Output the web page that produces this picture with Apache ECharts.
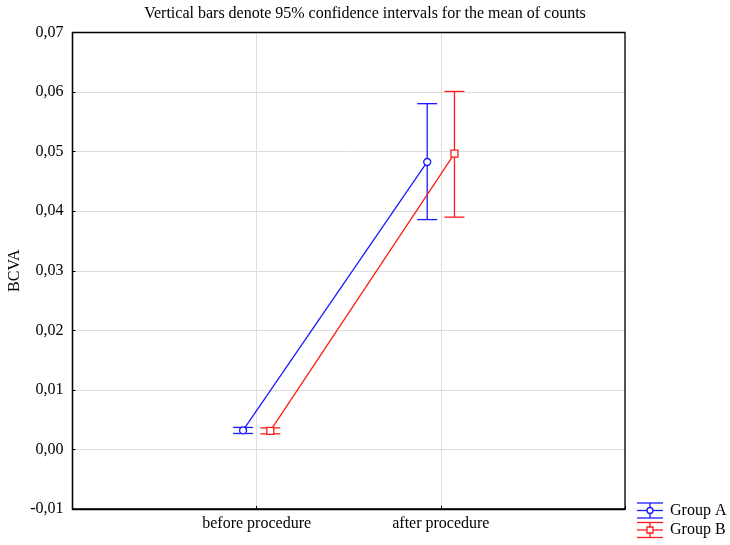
<!DOCTYPE html>
<html>
<head>
<meta charset="utf-8">
<script src="https://cdn.jsdelivr.net/npm/echarts@6/dist/echarts.min.js"></script>
<style>html,body{margin:0;padding:0;background:#fff}#c{width:730px;height:545px}</style>
</head>
<body>
<div id="c"></div>
<script>
// ---- data ----
var categories = ['before procedure', 'after procedure'];
var groupNames = ['Group A', 'Group B'];
var groupAMean = [0.00319, 0.04826];
var groupALow  = [0.00268, 0.03859];
var groupAHigh = [0.00369, 0.05805];
var groupBMean = [0.00312, 0.04966];
var groupBLow  = [0.00262, 0.03900];
var groupBHigh = [0.00362, 0.06010];
var yTicks = [-0.01, 0.00, 0.01, 0.02, 0.03, 0.04, 0.05, 0.06, 0.07];
var titleText = 'Vertical bars denote 95% confidence intervals for the mean of counts';
var yAxisName = 'BCVA';

var BLUE = '#1a1aff', RED = '#ff1a1a';
var OFFSET = 0.074;
var FONT = '"Liberation Serif", "Times New Roman", serif';
var FS = 16;

var GL = 72.5, GR = 105, GT = 32.5, GB = 36;

function pts(means, off) {
  return means.map(function (m, i) { return [i + 1 + off, m]; });
}
function errs(lo, hi, off) {
  return lo.map(function (l, i) { return [i + 1 + off, l, hi[i]]; });
}
function errRender(color) {
  return function (params, api) {
    var x = api.value(0);
    var p1 = api.coord([x, api.value(1)]);
    var p2 = api.coord([x, api.value(2)]);
    var hw = 10;
    var st = { stroke: color, lineWidth: 1.3 };
    return {
      type: 'group',
      children: [
        { type: 'line', shape: { x1: p1[0], y1: p1[1], x2: p2[0], y2: p2[1] }, style: st },
        { type: 'line', shape: { x1: p1[0] - hw, y1: p1[1], x2: p1[0] + hw, y2: p1[1] }, style: st },
        { type: 'line', shape: { x1: p2[0] - hw, y1: p2[1], x2: p2[0] + hw, y2: p2[1] }, style: st }
      ]
    };
  };
}
function legendGlyph(y, color, isCircle, label) {
  var st = { stroke: color, lineWidth: 1.3, fill: null };
  var x0 = 637, x1 = 663, xc = 650;
  var marker = isCircle
    ? { type: 'circle', shape: { cx: xc, cy: y, r: 3 }, style: { stroke: color, lineWidth: 1.3, fill: '#fff' } }
    : { type: 'rect', shape: { x: xc - 3, y: y - 3, width: 6, height: 6 }, style: { stroke: color, lineWidth: 1.3, fill: '#fff' } };
  return [
    { type: 'line', shape: { x1: x0, y1: y - 7.5, x2: x1, y2: y - 7.5 }, style: st },
    { type: 'line', shape: { x1: x0, y1: y, x2: x1, y2: y }, style: st },
    { type: 'line', shape: { x1: x0, y1: y + 7.5, x2: x1, y2: y + 7.5 }, style: st },
    { type: 'line', shape: { x1: xc, y1: y - 7.5, x2: xc, y2: y + 7.5 }, style: st },
    marker,
    { type: 'text', x: 670, y: y, style: { text: label, font: FS + 'px ' + FONT, fill: '#000', verticalAlign: 'middle' } }
  ];
}

var chart = echarts.init(document.getElementById('c'));
chart.setOption({
  animation: false,
  backgroundColor: '#fff',
  title: {
    text: titleText, left: 'center', top: 1,
    textStyle: { fontFamily: FONT, fontSize: FS, fontWeight: 'normal', color: '#000' }
  },
  grid: { left: GL, right: GR, top: GT, bottom: GB, show: false, containLabel: false, outerBoundsMode: 'none' },
  xAxis: {
    type: 'value', min: 0, max: 3, interval: 1,
    axisLine: { show: true, onZero: false, lineStyle: { color: '#000', width: 1.3 } },
    axisTick: { show: true, inside: true, length: 3, lineStyle: { color: '#000' } },
    splitLine: { show: true, lineStyle: { color: '#dedede', width: 1 } },
    axisLabel: {
      fontFamily: FONT, fontSize: FS, color: '#000', margin: 7,
      formatter: function (v) { var i = Math.round(v) - 1; return (i >= 0 && i < categories.length) ? categories[i] : ''; }
    }
  },
  yAxis: {
    type: 'value', min: yTicks[0], max: yTicks[yTicks.length - 1], interval: 0.01,
    name: yAxisName, nameLocation: 'middle', nameGap: 50, nameRotate: 90, nameMoveOverlap: false,
    nameTextStyle: { fontFamily: FONT, fontSize: FS, color: '#000' },
    axisLine: { show: true, onZero: false, lineStyle: { color: '#000', width: 1.3 } },
    axisTick: { show: true, inside: true, length: 3, lineStyle: { color: '#000' } },
    splitLine: { show: true, lineStyle: { color: '#dedede', width: 1 } },
    axisLabel: {
      fontFamily: FONT, fontSize: FS, color: '#000', margin: 9,
      formatter: function (v) { return v.toFixed(2).replace('.', ','); }
    }
  },
  series: [
    { type: 'custom', name: groupNames[0] + ' CI', renderItem: errRender(BLUE), data: errs(groupALow, groupAHigh, -OFFSET), z: 3 },
    { type: 'custom', name: groupNames[1] + ' CI', renderItem: errRender(RED), data: errs(groupBLow, groupBHigh, OFFSET), z: 3 },
    { type: 'line', name: groupNames[0], data: pts(groupAMean, -OFFSET), symbol: 'circle', symbolSize: 7,
      lineStyle: { color: BLUE, width: 1.3 }, itemStyle: { color: '#fff', borderColor: BLUE, borderWidth: 1.3 }, z: 4 },
    { type: 'line', name: groupNames[1], data: pts(groupBMean, OFFSET), symbol: 'rect', symbolSize: 7,
      lineStyle: { color: RED, width: 1.3 }, itemStyle: { color: '#fff', borderColor: RED, borderWidth: 1.3 }, z: 4 }
  ],
  graphic: [
    { type: 'rect', z: 100, silent: true,
      shape: { x: GL, y: GT, width: 730 - GL - GR, height: 545 - GT - GB },
      style: { fill: null, stroke: '#000', lineWidth: 1.3 } }
  ].concat(legendGlyph(510.5, BLUE, true, groupNames[0])).concat(legendGlyph(530, RED, false, groupNames[1]))
});
</script>
</body>
</html>
